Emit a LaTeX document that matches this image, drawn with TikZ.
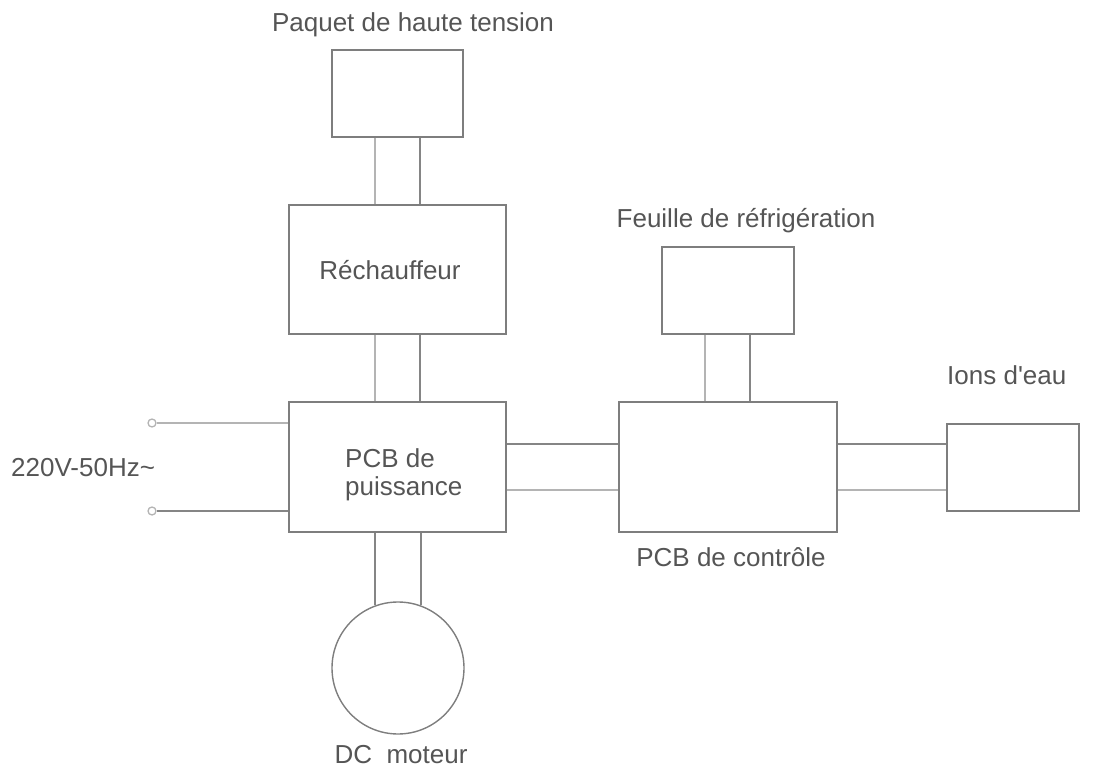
\documentclass[tikz,border=0pt]{standalone}
\usepackage{fontspec}
\setmainfont{Liberation Sans}
\definecolor{linedark}{HTML}{858585}
\definecolor{linelight}{HTML}{B4B4B4}
\definecolor{boxline}{HTML}{7E7E7E}
\definecolor{txt}{HTML}{555555}
\begin{document}
\begin{tikzpicture}[x=1pt,y=-1pt,
  blk/.style={draw=boxline,line width=1.4pt,inner sep=0pt},
  wire/.style={draw=linedark,line width=1.5pt},
  wirel/.style={draw=linelight,line width=1.5pt},
  lbl/.style={text=txt,font=\fontsize{26}{27.5}\selectfont,inner sep=0pt},
  term/.style={circle,draw=linelight,line width=1.3pt,minimum size=8pt,inner sep=0pt,fill=white}]
\useasboundingbox (0,0) rectangle (1093,773);
% boxes
\node[blk,minimum width=131pt,minimum height=87pt] (hv) at (397.5,93.5) {};
\node[blk,minimum width=217pt,minimum height=129pt] (rech) at (397.5,269.5) {};
\node[blk,minimum width=217pt,minimum height=130pt] (pcbp) at (397.5,467) {};
\node[blk,minimum width=132pt,minimum height=87pt] (feu) at (728,290.5) {};
\node[blk,minimum width=218pt,minimum height=130pt] (pcbc) at (728,467) {};
\node[blk,minimum width=132pt,minimum height=87pt] (ions) at (1013,467.5) {};
\node[blk,circle,minimum size=132pt] (motor) at (398,668) {};
% terminals
\node[term] (t1) at (152,423) {};
\node[term] (t2) at (152,511) {};
% helper coordinates
\coordinate (xa) at (375,0);
\coordinate (xb) at (420,0);
\coordinate (xc) at (705,0);
\coordinate (xd) at (750,0);
\coordinate (ya) at (0,444);
\coordinate (yb) at (0,490);
% connectors
\draw[wirel] (xa |- hv.south) -- (xa |- rech.north);
\draw[wire]  (xb |- hv.south) -- (xb |- rech.north);
\draw[wirel] (xa |- rech.south) -- (xa |- pcbp.north);
\draw[wire]  (xb |- rech.south) -- (xb |- pcbp.north);
\draw[wire]  (motor.110.4 |- pcbp.south) -- (motor.110.4);
\draw[wire]  (motor.70.5 |- pcbp.south) -- (motor.70.5);
\draw[wirel] (xc |- feu.south) -- (xc |- pcbc.north);
\draw[wire]  (xd |- feu.south) -- (xd |- pcbc.north);
\draw[wire]  (pcbp.east |- ya) -- (pcbc.west |- ya);
\draw[wirel] (pcbp.east |- yb) -- (pcbc.west |- yb);
\draw[wire]  (pcbc.east |- ya) -- (ions.west |- ya);
\draw[wirel] (pcbc.east |- yb) -- (ions.west |- yb);
\draw[wirel] (t1.east) -- (pcbp.west |- t1);
\draw[wire]  (t2.east) -- (pcbp.west |- t2);
% labels
\node[lbl,anchor=base] (lhv) at (413,32) {Paquet de haute tension};
\node[lbl,anchor=base] (lrech) at (390,279) {Réchauffeur};
\node[lbl,anchor=base west,align=left] (lpcbp) at (345,495) {PCB de\\puissance};
\node[lbl,anchor=base west] (lac) at (11,476) {220V-50Hz\char"007E};
\node[lbl,anchor=base] (lfeu) at (746,227) {Feuille de réfrigération};
\node[lbl,anchor=base west] (lions) at (947,384) {Ions d\textquotesingle eau};
\node[lbl,anchor=base] (lpcbc) at (731,566) {PCB de contrôle};
\node[lbl,anchor=base] (lmot) at (401,763) {DC\ \ moteur};
\end{tikzpicture}
\end{document}
